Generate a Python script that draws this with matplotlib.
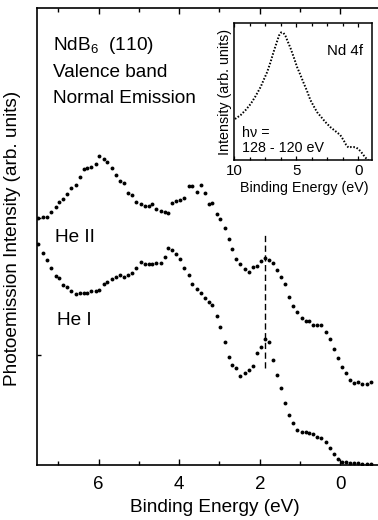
import matplotlib
matplotlib.use("Agg")
import matplotlib.pyplot as plt
from matplotlib.ticker import MultipleLocator, FixedLocator, NullFormatter

plt.rcParams['font.family'] = ['Liberation Sans', 'DejaVu Sans']
plt.rcParams['mathtext.fontset'] = 'custom'
plt.rcParams['mathtext.rm'] = 'Liberation Sans'

# ---------------- data ----------------
energy_ev = [7.51, 7.38, 7.27, 7.18, 7.07, 6.99, 6.89, 6.78, 6.68, 6.57,
             6.46, 6.37, 6.28, 6.18, 6.07, 5.98, 5.87, 5.78, 5.66, 5.58,
             5.48, 5.37, 5.27, 5.16, 5.06, 4.96, 4.86, 4.76, 4.67, 4.57,
             4.46, 4.36, 4.28, 4.17, 4.07, 3.97, 3.88, 3.76, 3.67, 3.57,
             3.47, 3.37, 3.26, 3.18, 3.06, 2.98, 2.87, 2.77, 2.68, 2.58,
             2.48, 2.37, 2.27, 2.18, 2.08, 1.98, 1.88, 1.77, 1.67, 1.57,
             1.47, 1.37, 1.27, 1.17, 1.07, 0.96, 0.86, 0.77, 0.67, 0.57,
             0.47, 0.36, 0.26, 0.16, 0.06, -0.04, -0.14, -0.24, -0.34, -0.44,
             -0.55, -0.65, -0.75]

he2_intensity = [53.9, 54.3, 54.3, 55.4, 56.5, 57.6, 58.1, 59.2, 60.5, 61.2,
                 63.0, 64.7, 64.9, 65.2, 65.8, 67.6, 66.9, 66.3, 64.9, 63.4,
                 62.1, 61.6, 59.4, 59.0, 57.6, 57.0, 56.6, 56.6, 57.0, 55.9,
                 55.6, 55.4, 55.2, 57.2, 57.8, 57.9, 58.3, 60.9, 61.0, 59.8,
                 61.2, 59.5, 57.1, 57.2, 54.8, 53.8, 51.9, 49.4, 47.2, 45.0,
                 43.9, 42.8, 42.2, 43.3, 43.5, 44.6, 45.2, 44.8, 44.1, 42.6,
                 41.1, 39.5, 36.6, 34.7, 33.5, 32.2, 31.5, 31.4, 30.6, 30.6,
                 30.5, 29.0, 27.4, 25.2, 23.3, 21.3, 20.0, 18.5, 17.9, 18.0,
                 17.6, 17.6, 18.0]

he1_intensity = [48.2, 46.3, 44.8, 43.0, 41.3, 40.8, 39.3, 38.9, 37.9, 37.3,
                 37.5, 37.6, 37.6, 38.0, 37.9, 38.2, 39.5, 40.0, 40.6, 41.0,
                 41.5, 41.0, 41.5, 42.0, 43.0, 44.3, 43.9, 43.9, 44.0, 44.2,
                 44.1, 45.5, 47.5, 47.0, 46.1, 45.0, 43.1, 41.5, 39.5, 38.4,
                 37.5, 36.4, 35.7, 34.9, 32.5, 30.1, 26.8, 23.6, 21.9, 21.1,
                 19.4, 20.1, 20.7, 21.6, 24.5, 25.8, 27.5, 26.9, 23.0, 19.5,
                 16.7, 13.4, 10.8, 9.1, 7.6, 7.2, 7.1, 6.9, 6.6, 6.1,
                 5.8, 4.9, 3.6, 2.3, 1.1, 0.6, 0.5, 0.4, 0.3, 0.3,
                 0.2, 0.2, 0.1]

# Nd 4f (inset)
nd4f_energy = [9.92, 9.46, 9.06, 8.66, 8.26, 7.86, 7.62, 7.33, 7.06, 6.82,
               6.58, 6.38, 6.22, 6.02, 5.86, 5.70, 5.46, 5.20, 4.93, 4.66,
               4.40, 4.13, 3.86, 3.60, 3.33, 3.06, 2.66, 2.26, 1.86, 1.46,
               1.20, 0.98, 0.80, 0.58, 0.40, 0.18, 0.00, -0.22, -0.40, -0.67,
               -0.80]
nd4f_intensity = [30.0, 32.9, 36.6, 41.0, 46.8, 53.4, 58.5, 64.4, 71.7, 79.0,
                  85.6, 91.1, 93.3, 92.9, 90.7, 87.1, 81.9, 75.3, 68.0, 62.2,
                  56.3, 50.5, 43.9, 39.5, 35.1, 32.2, 27.8, 24.1, 21.2, 18.3,
                  14.6, 11.0, 9.1, 9.5, 9.5, 9.1, 8.0, 5.9, 3.7, 0.7,
                  0.0]

marker_energy = 1.88          # dashed guide line
marker_span = (21.1, 50.9)

main_xticks = [6, 4, 2, 0]
inset_xticks = [10, 5, 0]

# ---------------- figure ----------------
W, H = 378, 520
fig = plt.figure(figsize=(W / 100, H / 100), dpi=100)

def fx(px):
    return px / W

def fy(py):
    return 1 - py / H

ax = fig.add_axes([fx(37), fy(464.5), fx(379) - fx(37), fy(8) - fy(464.5)])
ax.plot(energy_ev, he2_intensity, 'o', ms=2.8, color='black', mec='none')
ax.plot(energy_ev, he1_intensity, 'o', ms=2.8, color='black', mec='none')
ax.plot([marker_energy, marker_energy], list(marker_span), color='black',
        lw=1.0, ls=(0, (4.5, 2.5)))

ax.set_xlim(7.53, -0.96)
ax.set_ylim(0, 100)
ax.xaxis.set_major_locator(FixedLocator(main_xticks))
ax.xaxis.set_minor_locator(MultipleLocator(1))
ax.set_yticks([24, 54])
ax.yaxis.set_major_formatter(NullFormatter())
ax.tick_params(axis='x', which='major', direction='in', top=True, bottom=True,
               length=4, width=1, labelsize=13.5, pad=8)
ax.tick_params(axis='x', which='minor', direction='in', top=True, bottom=True,
               length=3, width=1)
ax.tick_params(axis='y', which='major', direction='in', left=True, right=False,
               length=3, width=1)
for s in ['left', 'bottom', 'top']:
    ax.spines[s].set_linewidth(1.2)
ax.spines['right'].set_visible(False)

fig.text(fx(215), fy(507), 'Binding Energy (eV)', ha='center', va='center',
         fontsize=13.7)
fig.text(fx(13), fy(238), 'Photoemission Intensity (arb. units)', ha='center',
         va='center', rotation=90, fontsize=13.7)

fig.text(fx(53), fy(50), r'NdB$_\mathregular{6}$  (110)', ha='left',
         va='baseline', fontsize=13.7)
fig.text(fx(53), fy(77), 'Valence band', ha='left', va='baseline', fontsize=13.7)
fig.text(fx(53), fy(103), 'Normal Emission', ha='left', va='baseline',
         fontsize=13.7)
fig.text(fx(55), fy(242), 'He II', ha='left', va='baseline', fontsize=13.7)
fig.text(fx(57), fy(325), 'He I', ha='left', va='baseline', fontsize=13.7)

# ---------------- inset ----------------
ins = fig.add_axes([fx(234), fy(160), fx(371.7) - fx(234), fy(23.3) - fy(160)])
ins.plot(nd4f_energy, nd4f_intensity, color='black', lw=1.4, ls=(0, (0.8, 0.9)))
ins.set_xlim(10.0, -1.07)
ins.set_ylim(0, 100)
ins.xaxis.set_major_locator(FixedLocator(inset_xticks))
ins.xaxis.set_minor_locator(MultipleLocator(1.25))
ins.set_yticks([])
ins.tick_params(axis='x', which='major', direction='in', top=True, bottom=True,
                length=3, width=0.9, labelsize=10.8, pad=3)
ins.tick_params(axis='x', which='minor', direction='in', top=True, bottom=True,
                length=2.5, width=0.9)
for s in ins.spines.values():
    s.set_linewidth(1.1)

fig.text(fx(304), fy(188), 'Binding Energy (eV)', ha='center', va='center',
         fontsize=10.3)
fig.text(fx(225), fy(91.5), 'Intensity (arb. units)', ha='center', va='center',
         rotation=90, fontsize=10.3)
fig.text(fx(326.7), fy(55), 'Nd 4f', ha='left', va='baseline', fontsize=10.8)
fig.text(fx(241.7), fy(136.7), 'h\u03bd =', ha='left', va='baseline',
         fontsize=10.3)
fig.text(fx(241.7), fy(151.7), '128 - 120 eV', ha='left', va='baseline',
         fontsize=10.3)

fig.savefig('out.png', dpi=100)
